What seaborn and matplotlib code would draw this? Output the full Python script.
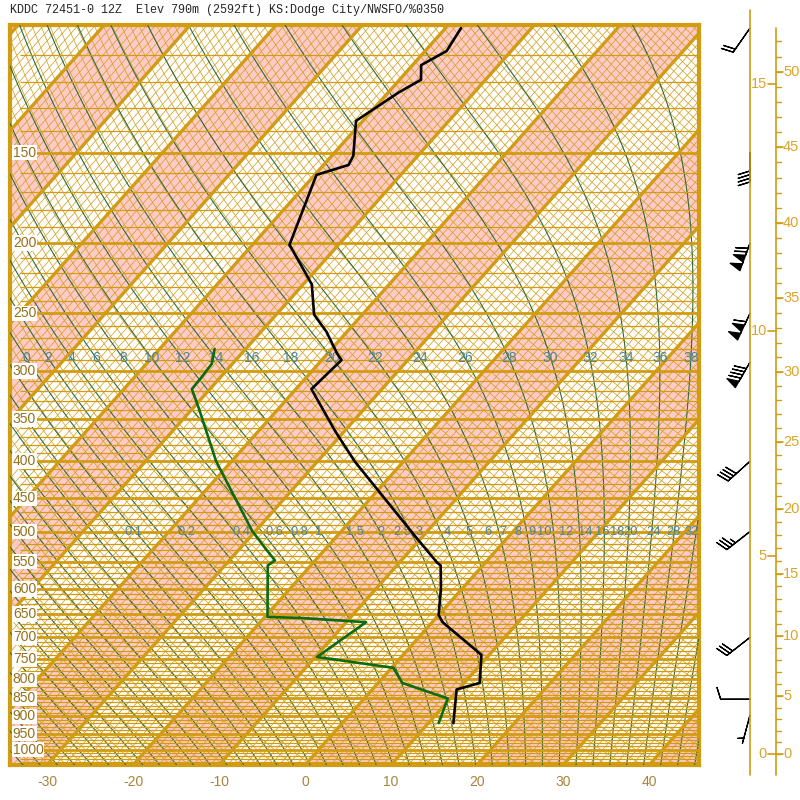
import numpy as np
import matplotlib
matplotlib.use("Agg")
import matplotlib.pyplot as plt
from matplotlib.collections import LineCollection
import seaborn as sns

# sounding (hPa, deg C)
temp_p = [919, 826, 809, 740, 667, 652, 599, 557, 552, 510, 400, 364, 318, 290, 284,
          265, 251, 228, 201, 161, 156, 151.5, 135.6, 124, 119, 113.6, 108.6, 101]
temp_c = [12.9, 9.8, 11.8, 9.1, 1.2, 0.0, -2.5, -4.9, -5.6, -10.6, -25.7, -31.0, -38.2, -37.7, -38.9,
          -42.4, -45.6, -49.0, -55.7, -59.8, -57.1, -57.5, -60.8, -58.8, -57.5, -59.0, -57.5, -58.2]
dewp_p = [919, 850, 809, 771, 745, 667, 658, 656, 557, 548, 528, 499, 400, 338, 318, 306, 293.5, 280]
dewp_c = [11.2, 9.7, 2.8, 0.2, -9.8, -7.7, -15.8, -19.7, -25.0, -24.7, -27.0, -30.4, -41.8, -49.3,
          -52.1, -52.2, -52.4, -53.6]

# winds (hPa, direction deg, knots)
wind_p = [101, 150, 200, 250, 292, 400, 500, 700, 852, 896]
wind_dir = [215, 180, 200, 205, 210, 228, 232, 232, 270, 195]
wind_kt = [20, 40, 120, 110, 90, 40, 35, 30, 10, 5]

# labels
isobar_labels = [150, 200, 250, 300, 350, 400, 450, 500, 550, 600, 650, 700, 750, 800, 850, 900, 950, 1000]
temp_ticks = [-30, -20, -10, 0, 10, 20, 30, 40]
thetaw_labels = [-2, 0, 2, 4, 6, 8, 10, 12, 14, 16, 18, 20, 22, 24, 26, 28, 30, 32, 34, 36, 38]
mixr_labels = [0.1, 0.2, 0.4, 0.6, 0.8, 1, 1.5, 2, 2.5, 3, 4, 5, 6, 7, 8, 9, 10, 12, 14, 16, 18, 20, 24, 28, 32]
km_labels = [0, 5, 10, 15]
kft_labels = [0, 5, 10, 15, 20, 25, 30, 35, 40, 45, 50]

title = "KDDC 72451-0 12Z  Elev 790m (2592ft) KS:Dodge City/NWSFO/%0350"

P_BOT, P_TOP = 1050.0, 100.0
K = 32.6          # skew, deg C per unit ln p
ORANGE = "#d29c12"
GREEN = "#2f6b3a"
LABEL = "#4d8594"


def skew(t, p):
    return np.asarray(t) + K * np.log(P_BOT / np.asarray(p))


def std_pressure(h_m):
    h = np.asarray(h_m, dtype=float)
    low = 1013.25 * (1 - 2.25577e-5 * np.minimum(h, 11000)) ** 5.25588
    return np.where(h <= 11000, low, 226.32 * np.exp(-(h - 11000) / 6341.6))


def moist_adiabats(tw_c, lnp):
    # pseudo-adiabats started at 1000 hPa, integrated in ln p with RK4
    Rd, Cp, Lv, eps = 287.04, 1005.7, 2.501e6, 0.622

    def rhs(T, lp):
        p = np.exp(lp)
        tc = T - 273.15
        es = 6.112 * np.exp(17.67 * tc / (tc + 243.5))
        rs = eps * es / (p - es)
        return (Rd * T + Lv * rs) / (Cp + Lv * Lv * rs * eps / (Rd * T * T))

    out = np.zeros((len(tw_c), len(lnp)))
    i0 = np.argmin(np.abs(lnp - np.log(1000.0)))
    for direction in (1, -1):
        T = np.asarray(tw_c, dtype=float) + 273.15
        out[:, i0] = T
        idx = range(i0 + 1, len(lnp)) if direction == 1 else range(i0 - 1, -1, -1)
        prev = i0
        for i in idx:
            h = lnp[i] - lnp[prev]
            k1 = rhs(T, lnp[prev])
            k2 = rhs(T + h * k1 / 2, lnp[prev] + h / 2)
            k3 = rhs(T + h * k2 / 2, lnp[prev] + h / 2)
            k4 = rhs(T + h * k3, lnp[i])
            T = T + h * (k1 + 2 * k2 + 2 * k3 + k4) / 6
            out[:, i] = T
            prev = i
    return out - 273.15


sns.set_style("white")
plt.rcParams["font.family"] = ["Liberation Sans", "DejaVu Sans"]

fig = plt.figure(figsize=(8, 8), dpi=100)
ax = fig.add_axes([10 / 800, 35 / 800, 689 / 800, 740 / 800])
ax.set_yscale("log")
ax.set_ylim(P_BOT, P_TOP)
ax.set_xlim(-34.3, 45.8)

# pink bands every other 10 degrees
for t0 in range(-120, 50, 20):
    xs = [skew(t0, P_BOT), skew(t0 + 10, P_BOT), skew(t0 + 10, P_TOP), skew(t0, P_TOP)]
    ax.fill(xs, [P_BOT, P_BOT, P_TOP, P_TOP], color="#ffcaca", lw=0, zorder=1)

# thin isotherms (1 C) and dry adiabats (2 K)
segs = [[(skew(t, P_BOT), P_BOT), (skew(t, P_TOP), P_TOP)] for t in range(-112, 47)]
ax.add_collection(LineCollection(segs, colors=ORANGE, lw=0.5, zorder=2))
pp = np.geomspace(P_BOT, P_TOP, 60)
segs = []
for th in range(230, 472, 2):
    tt = th * (pp / 1000.0) ** 0.2857 - 273.15
    segs.append(np.column_stack([skew(tt, pp), pp]))
ax.add_collection(LineCollection(segs, colors=ORANGE, lw=0.5, zorder=2))

# moist adiabats
lnp = np.linspace(np.log(P_BOT), np.log(P_TOP), 240)
pm = np.exp(lnp)
tw_all = np.arange(-36, 46, 2)
tm = moist_adiabats(tw_all, lnp)
segs = [np.column_stack([skew(row, pm), pm]) for row in tm]
ax.add_collection(LineCollection(segs, colors=GREEN, lw=0.8, zorder=3))

# isobars
thin = [p for p in range(110, 1050, 10) if p % 50]
ax.hlines(thin, -33.1, 45.8, colors=ORANGE, lw=0.9, zorder=3)
ax.hlines(list(range(150, 1050, 50)), -34.3, 45.8, colors=ORANGE, lw=2.0, zorder=3)

# thick isotherms every 10 C
segs = [[(skew(t, P_BOT), P_BOT), (skew(t, P_TOP), P_TOP)] for t in range(-120, 60, 10)]
ax.add_collection(LineCollection(segs, colors=ORANGE, lw=2.4, zorder=3))

# moist adiabat labels near 288 hPa
p_lab = 288.0
for tw in thetaw_labels:
    i = list(tw_all).index(tw)
    t_at = np.interp(np.log(p_lab), lnp[::-1], tm[i][::-1])
    ax.text(skew(t_at, p_lab), p_lab, f"{tw}", color=LABEL, fontsize=10,
            ha="center", va="center", zorder=4, clip_on=True)

# mixing ratio labels on the 500 hPa line
for w in mixr_labels:
    e = w * 500.0 / (622.0 + w)
    a = np.log(e / 6.112)
    td = a * 243.5 / (17.67 - a)
    if td < 0:
        td = a * 272.62 / (22.46 - a)
    ax.text(skew(td, 500.0), 500.0, f"{w:g}", color=LABEL, fontsize=9.3,
            ha="center", va="center", zorder=4, clip_on=True)

# pressure labels
for p in isobar_labels:
    ax.text(0.004, p, f"{p}", transform=ax.get_yaxis_transform(), color="#94701a",
            fontsize=10, ha="left", va="center", zorder=5,
            bbox=dict(facecolor="white", edgecolor="none", pad=0.6))

# sounding
sns.lineplot(x=skew(dewp_c, dewp_p), y=dewp_p, sort=False, estimator=None,
             color="#0b6a12", lw=1.9, ax=ax, zorder=6)
sns.lineplot(x=skew(temp_c, temp_p), y=temp_p, sort=False, estimator=None,
             color="black", lw=1.9, ax=ax, zorder=6)

ax.set_xticks(temp_ticks)
ax.set_xticklabels([str(t) for t in temp_ticks])
ax.tick_params(axis="x", length=0, pad=7, labelsize=10, labelcolor="#a8843a")
ax.set_yticks([])
ax.set_yticks([], minor=True)
ax.set_xlabel("")
ax.set_ylabel("")
for s in ax.spines.values():
    s.set_color(ORANGE)
    s.set_linewidth(3)

# right panel: barb line, height scales, winds
axr = fig.add_axes([0, 35 / 800, 1, 740 / 800])
axr.set_yscale("log")
axr.set_ylim(P_BOT, P_TOP)
axr.set_xlim(0, 800)
axr.axis("off")
axr.patch.set_alpha(0)

axr.plot([750, 750], [1084, 95.3], color=ORANGE, lw=1.2, clip_on=False)
axr.plot([776, 776], [1084, 101], color=ORANGE, lw=1.2, clip_on=False)

for km in km_labels:
    p = float(std_pressure(km * 1000.0))
    axr.plot([768, 776], [p, p], color=ORANGE, lw=1.2)
    axr.text(767, p, f"{km}", color="#dba52a", fontsize=10.5, ha="right", va="center")
for kft in range(0, 53):
    p = float(std_pressure(kft * 304.8))
    axr.plot([776, 781], [p, p], color=ORANGE, lw=1.0)
for kft in kft_labels:
    p = float(std_pressure(kft * 304.8))
    axr.plot([776, 783], [p, p], color=ORANGE, lw=1.2)
    axr.text(783, p, f"{kft}", color="#dba52a", fontsize=10.5, ha="left", va="center")

d = np.deg2rad(wind_dir)
u = -np.array(wind_kt) * np.sin(d)
v = -np.array(wind_kt) * np.cos(d)
axr.barbs([750] * len(wind_p), wind_p, u, v, length=6.5, linewidth=0.9,
          color="black", clip_on=False)

fig.text(10 / 800, 1 - 10 / 800, title, family="Liberation Mono", fontsize=8.45,
         ha="left", va="center")

fig.savefig("out.png", dpi=100, facecolor="white")
